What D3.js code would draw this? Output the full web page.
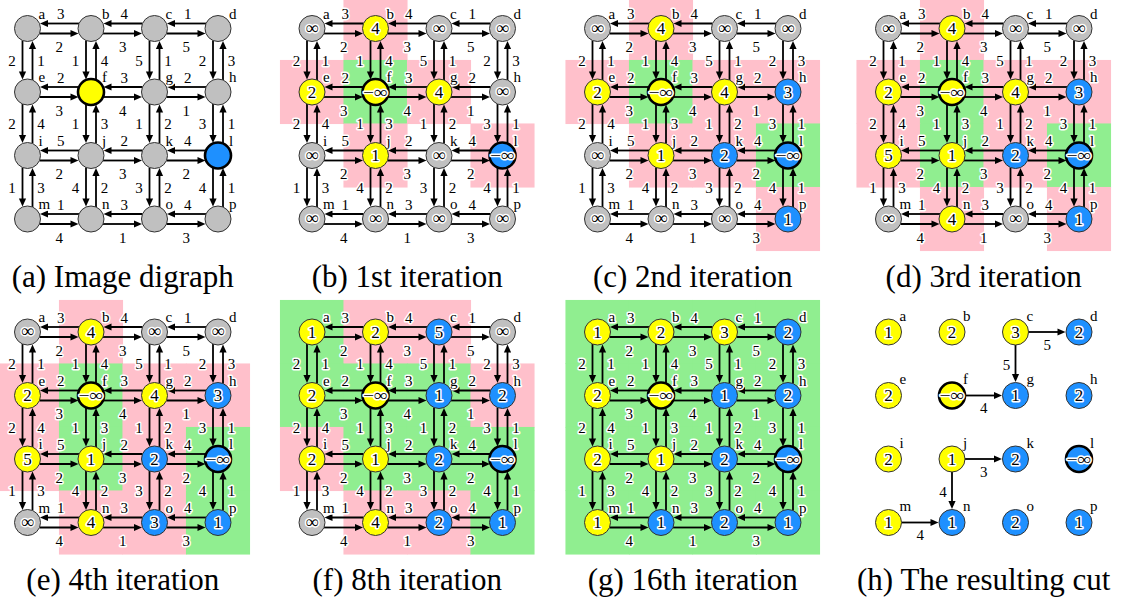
<!DOCTYPE html>
<html>
<head>
<meta charset="utf-8">
<script src="https://cdn.jsdelivr.net/npm/d3@7"></script>
<style>
  body { margin: 0; background: #fff; }
  svg text { font-family: "Liberation Serif", "Tinos", "DejaVu Serif", "Noto Serif", serif; }
  .halo { stroke: #fff; stroke-width: 3px; stroke-linejoin: round; paint-order: stroke; }
</style>
</head>
<body>
<svg id="chart" width="1130" height="602"></svg>
<script>
// node names of the 4x4 image grid
const nodeNames = "abcdefghijklmnop".split("");

// edge weights: rightward (below), leftward (above), downward (left), upward (right)
const rightW = [[2,3,5],[3,4,1],[2,3,2],[4,1,3]];
const leftW  = [[3,4,1],[2,3,2],[5,2,4],[1,3,4]];
const downW  = [[2,1,5,2],[2,1,1,3],[1,4,3,4]];
const upW    = [[1,4,1,3],[4,3,2,1],[3,2,2,1]];

const captions = ["(a) Image digraph", "(b) 1st iteration", "(c) 2nd iteration", "(d) 3rd iteration",
                  "(e) 4th iteration", "(f) 8th iteration", "(g) 16th iteration", "(h) The resulting cut"];

// G = gray, Y = yellow, B = blue  (row by row)
const nodeColors = [
  "GGGG GYGG GGGB GGGG",
  "GYGG YYYG GYGB GGGG",
  "GYGG YYYB GYBB GGGB",
  "GYGG YYYB YYBB GYGB",
  "GYGG YYYB YYBB GYBB",
  "YYBG YYBB YYBB GYBB",
  "YYYB YYBB YYBB YBBB",
  "YYYB YYBB YYBB YBBB"
];

// labels inside the nodes
const nodeLabels = [
  null,
  "∞ 4 ∞ ∞ 2 -∞ 4 ∞ ∞ 1 ∞ -∞ ∞ ∞ ∞ ∞",
  "∞ 4 ∞ ∞ 2 -∞ 4 3 ∞ 1 2 -∞ ∞ ∞ ∞ 1",
  "∞ 4 ∞ ∞ 2 -∞ 4 3 5 1 2 -∞ ∞ 4 ∞ 1",
  "∞ 4 ∞ ∞ 2 -∞ 4 3 5 1 2 -∞ ∞ 4 3 1",
  "1 2 5 ∞ 2 -∞ 1 2 2 1 2 -∞ ∞ 4 2 1",
  "1 2 3 2 2 -∞ 1 2 2 1 2 -∞ 1 1 2 1",
  "1 2 3 2 2 -∞ 1 2 2 1 2 -∞ 1 1 2 1"
];

// background cell shading: P = pink, G = green, . = none
const cellShades = [
  ".... .... .... ....",
  ".P.. PGP. .P.P ....",
  ".P.. PGPP .PPG ...P",
  ".P.. PGPP PGPG .P.P",
  ".P.. PGPP PGPG .PPG",
  "GPP. GGGP PGGG .PPG",
  "GGGG GGGG GGGG GGGG",
  ".... .... .... ...."
];

// edges left in the resulting cut
const cutEdges = [["c","d",5],["c","g",5],["f","g",4],["j","k",3],["j","n",4],["m","n",4]];

const strongNodes = ["f","l"];

const fillColor = {G: "#c0c0c0", Y: "#ffff00", B: "#1e90ff"};
const shadeColor = {P: "#ffc0cb", G: "#90ee90"};

const panelX = [27.5, 312, 597.5, 888.5];
const panelY = [28.5, 332];
const step = 63.5, R = 13, off = 5;
const headLen = 8, headW = 3.6;
const serif = "'Liberation Serif', Tinos, 'DejaVu Serif', 'Noto Serif', serif";

const svg = d3.select("#chart").attr("font-family", serif);

function drawArrow(g, x1, y1, x2, y2) {
  const dx = x2 - x1, dy = y2 - y1, len = Math.hypot(dx, dy);
  const ux = dx / len, uy = dy / len;
  const bx = x2 - ux * headLen, by = y2 - uy * headLen;
  g.append("line")
    .attr("x1", x1).attr("y1", y1).attr("x2", bx + ux).attr("y2", by + uy)
    .attr("stroke", "#000").attr("stroke-width", 1.8);
  g.append("path")
    .attr("d", `M${x2},${y2}L${bx - uy * headW},${by + ux * headW}L${bx + uy * headW},${by - ux * headW}Z`)
    .attr("fill", "#000");
}

function weightText(g, x, y, t, anchor) {
  g.append("text").attr("class", "halo")
    .attr("x", x).attr("y", y)
    .attr("text-anchor", anchor || "middle")
    .attr("font-family", serif)
    .attr("font-size", 15)
    .text(t);
}

captions.forEach((cap, p) => {
  const px = panelX[p % 4], py = panelY[Math.floor(p / 4)];
  const x = d3.scaleLinear().domain([0, 3]).range([px, px + 3 * step]);
  const y = d3.scaleLinear().domain([0, 3]).range([py, py + 3 * step]);
  const g = svg.append("g");
  const cols = nodeColors[p].replace(/ /g, "");
  const shades = cellShades[p].replace(/ /g, "");
  const labels = nodeLabels[p] ? nodeLabels[p].split(" ") : null;
  const nodes = nodeNames.map((n, i) => ({
    name: n, r: Math.floor(i / 4), c: i % 4,
    color: cols[i], shade: shades[i], label: labels ? labels[i] : null
  }));
  const byName = {};
  nodes.forEach(d => byName[d.name] = d);

  // shaded cells
  g.selectAll("rect.cell")
    .data(nodes.filter(d => d.shade !== "."))
    .join("rect")
    .attr("x", d => x(d.c) - step / 2 - 0.3)
    .attr("y", d => y(d.r) - step / 2 - 0.3)
    .attr("width", step + 0.6).attr("height", step + 0.6)
    .attr("fill", d => shadeColor[d.shade]);

  const eg = g.append("g");
  const tg = g.append("g");
  const cx = Math.sqrt(R * R - off * off);

  if (p < 7) {
    for (let r = 0; r < 4; r++) {
      for (let c = 0; c < 3; c++) {
        const xa = x(c), xb = x(c + 1), yy = y(r), mid = (xa + xb) / 2;
        drawArrow(eg, xb - cx, yy - off, xa + cx + 0.5, yy - off);
        drawArrow(eg, xa + cx, yy + off, xb - cx - 0.5, yy + off);
        weightText(tg, mid + 1.5, yy - 9.5, leftW[r][c]);
        weightText(tg, mid, yy + 23.5, rightW[r][c]);
      }
    }
    for (let r = 0; r < 3; r++) {
      for (let c = 0; c < 4; c++) {
        const ya = y(r), yb = y(r + 1), xx = x(c), mid = (ya + yb) / 2;
        drawArrow(eg, xx - off, ya + cx, xx - off, yb - cx - 0.5);
        drawArrow(eg, xx + off, yb - cx, xx + off, ya + cx + 0.5);
        weightText(tg, xx - 15.5, mid + 5.5, downW[r][c]);
        weightText(tg, xx + 13.5, mid + 5.5, upW[r][c]);
      }
    }
  } else {
    cutEdges.forEach(([s, t, w]) => {
      const a = byName[s], b = byName[t];
      if (a.r === b.r) {
        drawArrow(eg, x(a.c) + R, y(a.r), x(b.c) - R - 0.5, y(b.r));
        weightText(tg, (x(a.c) + x(b.c)) / 2, y(a.r) + 17.5, w);
      } else {
        drawArrow(eg, x(a.c), y(a.r) + R, x(b.c), y(b.r) - R - 0.5);
        weightText(tg, x(a.c) - 9, (y(a.r) + y(b.r)) / 2 + 6, w);
      }
    });
  }

  // node letters
  tg.selectAll("text.name")
    .data(nodes)
    .join("text")
    .attr("class", "name halo")
    .attr("x", d => x(d.c) + 11)
    .attr("y", d => y(d.r) - (p === 7 ? 11.5 : 10))
    .attr("font-family", serif)
    .attr("font-size", 15)
    .text(d => d.name);

  // nodes
  g.selectAll("circle.node")
    .data(nodes)
    .join("circle")
    .attr("cx", d => x(d.c)).attr("cy", d => y(d.r)).attr("r", R)
    .attr("fill", d => fillColor[d.color])
    .attr("stroke", d => strongNodes.includes(d.name) ? "#000" : "#333")
    .attr("stroke-width", d => strongNodes.includes(d.name) ? 2.6 : 1);

  if (labels) {
    g.selectAll("text.val")
      .data(nodes)
      .join("text")
      .attr("class", "val halo")
      .attr("x", d => x(d.c))
      .attr("y", d => y(d.r) + (d.label === "∞" ? 5 : 5.5))
      .attr("text-anchor", "middle")
      .attr("font-family", serif)
      .attr("font-size", d => d.label === "∞" ? 18 : 17)
      .attr("textLength", d => d.label === "-∞" ? 25 : null)
      .attr("lengthAdjust", "spacingAndGlyphs")
      .text(d => d.label === "-∞" ? "−∞" : d.label);
  }

  g.append("text")
    .attr("x", px + 1.5 * step)
    .attr("y", p < 4 ? 287 : 590)
    .attr("text-anchor", "middle")
    .attr("font-family", serif)
    .attr("font-size", 31)
    .text(cap);
});
</script>
</body>
</html>
